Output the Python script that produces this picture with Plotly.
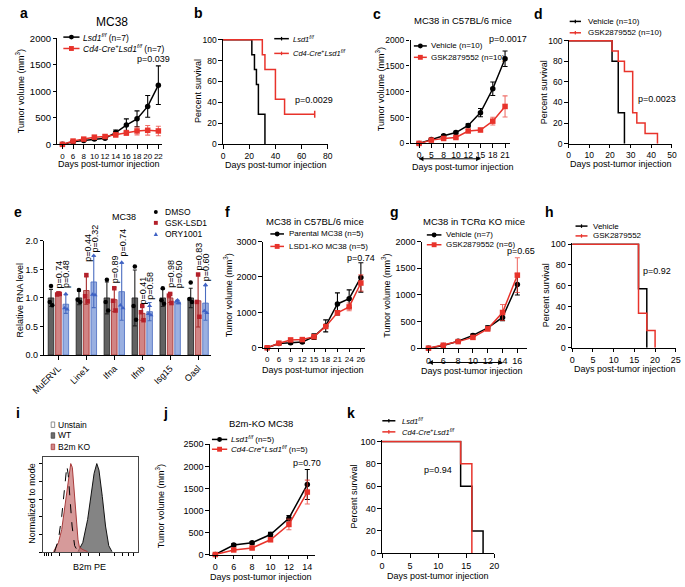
import plotly.graph_objects as go

# ---------------- data ----------------
# a: tumour growth, Lsd1 f/f vs Cd4-Cre+ Lsd1 f/f
a_days = [0, 6, 8, 10, 12, 14, 16, 18, 20, 22]
a_lsd_mean = [0, 50, 74, 99, 117, 222, 364, 481, 716, 1117]
a_lsd_err = [0, 12, 15, 20, 22, 50, 117, 150, 205, 365]
a_cre_mean = [0, 62, 99, 136, 148, 179, 216, 253, 265, 253]
a_cre_err = [0, 15, 20, 25, 30, 40, 50, 75, 90, 90]

# b: survival
b_lsd_t = [0, 22, 24, 25.5, 27, 32]
b_lsd_s = [100, 85.7, 71.4, 57.1, 28.6, 0]
b_cre_t = [0, 30, 32, 40, 47, 70]
b_cre_s = [100, 85.7, 71.4, 42.9, 28.6, 28.6]

# c: MC38 in C57BL/6, vehicle vs GSK2879552
c_days = [0, 5, 8, 10, 12, 15, 18, 21]
c_veh_mean = [0, 76, 146, 209, 348, 595, 1057, 1639]
c_veh_err = [0, 15, 20, 25, 30, 80, 130, 150]
c_gsk_mean = [0, 63, 95, 114, 240, 259, 430, 715]
c_gsk_err = [0, 15, 20, 20, 30, 35, 75, 205]
c_treat = [0, 5]          # index range of the treatment window (day 0 - day 15)

# d: survival
d_veh_t = [0, 21, 24, 27]
d_veh_s = [100, 80, 30, 0]
d_gsk_t = [0, 21, 24, 27, 31, 33, 37, 43]
d_gsk_s = [100, 90, 80, 70, 30, 20, 10, 0]

# e: relative RNA level
e_genes = ["MuERVL", "Line1", "Ifna", "Ifnb", "Isg15", "Oasl"]
e_dmso_mean = [1.0, 1.0, 1.0, 1.0, 1.0, 1.0]
e_dmso_err = [0.15, 0.12, 0.28, 0.49, 0.15, 0.17]
e_dmso_pts = [[1.21, 0.93, 0.87], [1.14, 0.97, 0.93], [1.32, 0.93, 0.78],
              [1.55, 0.86, 0.62], [1.17, 0.96, 0.90], [1.27, 0.98, 0.93]]
e_gsk_mean = [1.07, 1.13, 0.97, 0.73, 1.0, 0.95]
e_gsk_err = [0.02, 0.24, 0.21, 0.12, 0.08, 0.46]
e_gsk_pts = [[1.08, 1.06, 1.07], [1.40, 1.03, 0.94], [1.17, 0.95, 0.78],
             [0.86, 0.75, 0.61], [1.07, 1.04, 0.91], [1.41, 0.93, 0.67]]
e_ory_mean = [0.89, 1.28, 1.11, 0.76, 0.93, 0.91]
e_ory_err = [0.16, 0.45, 0.50, 0.16, 0.03, 0.30]
e_ory_pts = [[1.07, 0.82, 0.80], [1.74, 1.06, 1.05], [1.62, 0.87, 0.82],
             [0.86, 0.72, 0.70], [0.96, 0.94, 0.91], [1.23, 0.77, 0.74]]
e_p_gsk = ["p=0.74", "p=0.44", "p=0.89", "p=0.41", "p=0.98", "p=0.83"]
e_p_ory = ["p=0.48", "p=0.32", "p=0.74", "p=0.58", "p=0.50", "p=0.60"]
e_p_gsk_y = [1.15, 1.62, 1.24, 0.87, 1.16, 1.46]
e_p_ory_y = [1.15, 1.77, 1.70, 0.96, 1.16, 1.28]

# f: parental vs LSD1-KO MC38
f_days = [0, 6, 9, 12, 15, 18, 21, 24, 26]
f_par_mean = [0, 120, 139, 166, 314, 618, 1237, 1385, 1985]
f_par_err = [0, 20, 30, 40, 80, 170, 314, 250, 415]
f_ko_mean = [0, 129, 222, 231, 314, 600, 988, 1154, 1828]
f_ko_err = [0, 20, 30, 30, 60, 50, 60, 110, 230]

# g: MC38 in TCRa KO mice
g_days = [0, 6, 8, 10, 12, 14, 16]
g_veh_mean = [0, 49, 129, 239, 380, 577, 1196]
g_veh_err = [0, 10, 15, 25, 40, 60, 200]
g_gsk_mean = [0, 55, 123, 202, 362, 669, 1369]
g_gsk_err = [0, 10, 15, 30, 40, 150, 325]
g_treat = [0, 5]          # index range of the treatment window (day 0 - day 14)

# h: survival
h_veh_t = [0, 16, 18]
h_veh_s = [100, 57.1, 0]
h_gsk_t = [0, 16, 18, 20]
h_gsk_s = [100, 33.3, 16.7, 0]

# i: flow histograms (B2m PE, % of mode)
i_un_x = [12.2, 16.4, 19.8, 22.5, 24.2, 25.2, 26.6, 28.3, 30.7, 33.4, 36.9]
i_un_y = [0, 14.7, 40.4, 70, 94, 97.4, 88, 62.5, 29.6, 7.4, 0.7]
i_ko_x = [11.2, 16.4, 19.8, 23.2, 25.9, 28.3, 29.3, 31.0, 33.4, 35.1, 36.9, 38.5, 42.0, 47.1]
i_ko_y = [0.7, 11, 25.7, 51.5, 77, 95.6, 100, 95.6, 62.5, 33, 14.7, 5.5, 3, 0.7]
i_wt_x = [36.9, 42.0, 47.1, 50.5, 53.9, 56.7, 59.0, 62.5, 65.9, 69.3, 72.7]
i_wt_y = [0.7, 11, 37, 63, 89, 100, 92.6, 63, 29.6, 7.4, 0.7]

# j: B2m-KO MC38
j_days = [0, 6, 8, 10, 12, 14]
j_lsd_mean = [0, 215, 267, 453, 824, 1588]
j_lsd_err = [0, 30, 30, 50, 60, 340]
j_cre_mean = [0, 104, 148, 334, 682, 1417]
j_cre_err = [0, 20, 30, 40, 120, 270]

# k: survival
k_lsd_t = [0, 14, 16, 18]
k_lsd_s = [100, 60, 20, 0]
k_cre_t = [0, 14, 16]
k_cre_s = [100, 80, 0]

# ---------------- styling helpers ----------------
W, H = 685, 587
FONT = "Liberation Sans, Arial, sans-serif"
RED = "#e8332b"
RED_ERR = "rgba(232,51,43,0.7)"
BLACK = "#000000"


def X(px):
    return px / W


def Y(py):
    return 1 - py / H


def tf(size):
    return dict(family=FONT, size=size, color="black")


fig = go.Figure()
layout_axes = {}
annotations = []
shapes = []


def axis_common():
    return dict(showline=True, linecolor="black", linewidth=1.2, ticks="outside",
                ticklen=3.5, tickwidth=1.2, tickcolor="black", showgrid=False,
                zeroline=False, fixedrange=True, tickangle=0, tickfont=tf(9))


def make_axes(n, box, xr, yr, xkw=None, ykw=None):
    x0, x1, yt, yb = box
    xn = "x" if n == 1 else f"x{n}"
    yn = "y" if n == 1 else f"y{n}"
    xa = axis_common()
    xa.update(domain=[X(x0), X(x1)], range=xr, anchor=yn)
    ya = axis_common()
    ya.update(domain=[Y(yb), Y(yt)], range=yr, anchor=xn)
    if xkw:
        xa.update(xkw)
    if ykw:
        ya.update(ykw)
    layout_axes["xaxis" if n == 1 else f"xaxis{n}"] = xa
    layout_axes["yaxis" if n == 1 else f"yaxis{n}"] = ya
    return xn, yn


def ann(text, px, py, size=9, xanchor="center", yanchor="middle", angle=0, color="black"):
    annotations.append(dict(text=text, x=X(px), y=Y(py), xref="paper", yref="paper",
                            xanchor=xanchor, yanchor=yanchor, showarrow=False,
                            textangle=angle, borderpad=0,
                            font=dict(family=FONT, size=size, color=color)))


def legend_entry(xl0, xl1, py, color, marker, text, tx, size=8, msize=5):
    shapes.append(dict(type="line", xref="paper", yref="paper", x0=X(xl0), x1=X(xl1),
                       y0=Y(py), y1=Y(py), line=dict(color=color, width=1.5)))
    xm = (xl0 + xl1) / 2
    r = msize / 2
    if marker == "circle":
        shapes.append(dict(type="circle", xref="paper", yref="paper", x0=X(xm - r), x1=X(xm + r),
                           y0=Y(py + r), y1=Y(py - r), fillcolor=color, line=dict(width=0)))
    elif marker == "square":
        shapes.append(dict(type="rect", xref="paper", yref="paper", x0=X(xm - r), x1=X(xm + r),
                           y0=Y(py + r), y1=Y(py - r), fillcolor=color, line=dict(width=0)))
    elif marker == "tick":
        shapes.append(dict(type="line", xref="paper", yref="paper", x0=X(xm), x1=X(xm),
                           y0=Y(py + 1.8), y1=Y(py - 1.8), line=dict(color=color, width=1.2)))
    ann(text, tx, py, size=size, xanchor="left")


def tumor_panel(n, box, days, series, yr, ydtick, xpad, xfs=9, yfs=9):
    idx = list(range(len(days)))
    xr = [-xpad[0], len(days) - 1 + xpad[1]]
    xn, yn = make_axes(n, box, xr, yr,
                       xkw=dict(tickmode="array", tickvals=idx, ticktext=[str(d) for d in days],
                                tickfont=tf(xfs)),
                       ykw=dict(tickmode="linear", tick0=0, dtick=ydtick, tickfont=tf(yfs)))
    for mean, err, color, errcolor, symbol in series:
        fig.add_trace(go.Scatter(x=idx, y=mean, xaxis=xn, yaxis=yn, mode="lines+markers",
                                 line=dict(color=color, width=1.5),
                                 marker=dict(symbol=symbol, size=5.5, color=color),
                                 error_y=dict(type="data", array=err, color=errcolor,
                                              thickness=1.1, width=2.5),
                                 cliponaxis=False, showlegend=False, hoverinfo="skip"))
    return xr, box


def surv_panel(n, box, xr, xdtick, curves, fs=9):
    xn, yn = make_axes(n, box, xr, [0, 101],
                       xkw=dict(tickmode="linear", tick0=0, dtick=xdtick, tickfont=tf(fs)),
                       ykw=dict(tickmode="linear", tick0=0, dtick=20, tickfont=tf(fs)))
    for t, s, color in curves:
        fig.add_trace(go.Scatter(x=t, y=s, xaxis=xn, yaxis=yn, mode="lines",
                                 line=dict(color=color, width=1.5, shape="hv"),
                                 cliponaxis=False, showlegend=False, hoverinfo="skip"))
    return xn, yn


def range_arrow(panel, window, py, head_px=4.5):
    # double-headed arrow under the x axis spanning the treatment window,
    # positioned with the same linear mapping the panel's x axis uses
    xr, box = panel

    def to_px(v):
        return box[0] + (v - xr[0]) / (xr[1] - xr[0]) * (box[1] - box[0])

    p0, p1 = to_px(window[0]), to_px(window[1])
    shapes.append(dict(type="line", xref="paper", yref="paper", x0=X(p0), x1=X(p1),
                       y0=Y(py), y1=Y(py), line=dict(color="black", width=1)))
    for tip, base in ((p0, p0 + head_px), (p1, p1 - head_px)):
        shapes.append(dict(type="path", xref="paper", yref="paper",
                           path=f"M {X(tip)} {Y(py)} L {X(base)} {Y(py - 2.6)} L {X(base)} {Y(py + 2.6)} Z",
                           fillcolor="black", line=dict(width=0)))


DAYS = "Days post-tumor injection"
TV = "Tumor volume (mm<sup>3</sup>)"
PS = "Percent survival"
LSD = "<i>Lsd1</i><sup><i>f/f</i></sup>"
CRE = "<i>Cd4-Cre</i><sup>+</sup><i>Lsd1</i><sup><i>f/f</i></sup>"

# ---------------- panel a ----------------
tumor_panel(1, (45.7, 153, 33, 141), a_days,
            [(a_lsd_mean, a_lsd_err, BLACK, BLACK, "circle"),
             (a_cre_mean, a_cre_err, RED, RED_ERR, "square")],
            [0, 2000], 500, (0.46, 0.34), xfs=8, yfs=9.5)
ann("a", 11.7, 7, size=14, angle=0)
ann("MC38", 102, 16, size=12)
legend_entry(51.7, 68.3, 31.7, BLACK, "circle", LSD + " (n=7)", 70.7, size=8.5)
legend_entry(51.7, 68.3, 43.3, RED, "square", CRE + " (n=7)", 70.7, size=8.5)
ann("p=0.039", 144.5, 54.3, size=9)
ann(TV, 8, 87, size=9, angle=-90)
ann(DAYS, 99, 161.5, size=9)

# ---------------- panel b ----------------
xb, yb = surv_panel(2, (215.7, 323.3, 33.3, 140.7), [0, 80], 20,
                    [(b_lsd_t, b_lsd_s, BLACK), (b_cre_t, b_cre_s, RED)], fs=8.5)
fig.add_trace(go.Scatter(x=b_cre_t[-1:], y=b_cre_s[-1:], xaxis=xb, yaxis=yb, mode="markers",
                         marker=dict(symbol="line-ns", size=5, line=dict(color=RED, width=1.5)),
                         cliponaxis=False, showlegend=False, hoverinfo="skip"))
ann("b", 190.7, 7.3, size=14)
legend_entry(268.3, 283.3, 33.3, BLACK, "tick", LSD, 286.7, size=7.5)
legend_entry(268.3, 283.3, 48.3, RED, "tick", CRE, 286.7, size=7.5)
ann("p=0.0029", 308.7, 96, size=9)
ann(PS, 190, 86.7, size=9, angle=-90)
ann(DAYS, 270, 162, size=9)

# ---------------- panel c ----------------
pc = tumor_panel(3, (408.3, 510, 34.7, 140), c_days,
                 [(c_veh_mean, c_veh_err, BLACK, BLACK, "circle"),
                  (c_gsk_mean, c_gsk_err, RED, RED_ERR, "square")],
                 [0, 2000], 500, (0.69, 0.37), xfs=8.5, yfs=8.5)
ann("c", 374.3, 8.3, size=14)
ann("MC38 in C57BL/6 mice", 461.7, 15, size=9.5)
legend_entry(411.7, 425, 40.7, BLACK, "circle", "Vehicle (n=10)", 428.3, size=8)
legend_entry(411.7, 425, 52.3, RED, "square", "GSK2879552 (n=10)", 428.3, size=8)
ann("p=0.0017", 488.3, 33.3, size=9, xanchor="left")
ann(TV, 377.7, 85, size=9, angle=-90)
ann(DAYS, 462.3, 164.5, size=9)
range_arrow(pc, c_treat, 155.7)

# ---------------- panel d ----------------
surv_panel(4, (570.7, 676.7, 34.3, 140.3), [0, 50], 10,
           [(d_veh_t, d_veh_s, BLACK), (d_gsk_t, d_gsk_s, RED)], fs=8.5)
ann("d", 540, 8.3, size=14)
legend_entry(571.7, 583.3, 15.7, BLACK, "tick", "Vehicle (n=10)", 589, size=8)
legend_entry(571.7, 583.3, 27.3, RED, "tick", "GSK2879552 (n=10)", 589, size=8)
ann("p=0.0023", 661, 95, size=9)
ann(PS, 545, 88.3, size=9, angle=-90)
ann(DAYS, 624, 161, size=9)

# ---------------- panel e ----------------
xe, ye = make_axes(5, (32.3, 203.3, 239.3, 355.7), [-0.5, 5.46], [0, 2],
                   xkw=dict(tickmode="array", tickvals=list(range(len(e_genes))),
                            ticktext=e_genes, tickangle=-45),
                   ykw=dict(tickmode="linear", tick0=0, dtick=0.5, tickformat=".1f"))
e_groups = [
    (e_dmso_mean, e_dmso_err, e_dmso_pts, -0.265, "rgba(70,70,70,0.85)", "#222222", "#000000", "circle"),
    (e_gsk_mean, e_gsk_err, e_gsk_pts, 0.0, "rgba(190,80,80,0.7)", "#a52a2a", "#b3202a", "square"),
    (e_ory_mean, e_ory_err, e_ory_pts, 0.265, "rgba(120,150,215,0.75)", "#4a6cc0", "#3f62c4", "triangle-up"),
]
e_jitter = [0.0, -0.045, 0.045]
for mean, err, pts, off, fill, edge, ptc, sym in e_groups:
    xs = [i + off for i in range(len(e_genes))]
    fig.add_trace(go.Bar(x=xs, y=mean, width=0.2, xaxis=xe, yaxis=ye,
                         marker=dict(color=fill, line=dict(color=edge, width=0.8)),
                         error_y=dict(type="data", array=err, color=edge, thickness=1.1, width=2),
                         showlegend=False, hoverinfo="skip"))
    px_, py_ = [], []
    for i, p in enumerate(pts):
        for j, v in enumerate(p):
            px_.append(i + off + e_jitter[j])
            py_.append(v)
    fig.add_trace(go.Scatter(x=px_, y=py_, xaxis=xe, yaxis=ye, mode="markers",
                             marker=dict(symbol=sym, size=4.5, color=ptc),
                             cliponaxis=False, showlegend=False, hoverinfo="skip"))
for i in range(len(e_genes)):
    for lab, yv, off in ((e_p_gsk[i], e_p_gsk_y[i], 0.0), (e_p_ory[i], e_p_ory_y[i], 0.265)):
        annotations.append(dict(text=lab, x=i + off + 0.03, y=yv, xref=xe, yref=ye,
                                xanchor="center", yanchor="bottom", textangle=-90,
                                showarrow=False, borderpad=0,
                                font=dict(family=FONT, size=9, color="black")))
ann("e", 5, 210, size=14)
ann("MC38", 113.7, 215, size=9)
shapes.append(dict(type="circle", xref="paper", yref="paper", x0=X(144.7), x1=X(148.7),
                   y0=Y(212), y1=Y(208), fillcolor="#000000", line=dict(width=0)))
ann("DMSO", 155, 210, size=8.5, xanchor="left")
shapes.append(dict(type="rect", xref="paper", yref="paper", x0=X(144.7), x1=X(148.7),
                   y0=Y(223), y1=Y(219), fillcolor="#b3202a", line=dict(width=0)))
ann("GSK-LSD1", 155, 221, size=8.5, xanchor="left")
shapes.append(dict(type="path", xref="paper", yref="paper",
                   path=f"M {X(144.5)} {Y(234.3)} L {X(148.9)} {Y(234.3)} L {X(146.7)} {Y(230.3)} Z",
                   fillcolor="#3f62c4", line=dict(width=0)))
ann("ORY1001", 155, 232.3, size=8.5, xanchor="left")
ann("Relative RNA level", 7.3, 300, size=9, angle=-90)

# ---------------- panel f ----------------
tumor_panel(6, (256.7, 361.7, 240, 348.3), f_days,
            [(f_par_mean, f_par_err, BLACK, BLACK, "circle"),
             (f_ko_mean, f_ko_err, RED, RED_ERR, "square")],
            [0, 3000], 1000, (0.36, 0.37), xfs=8, yfs=9)
ann("f", 220.7, 210, size=14)
ann("MC38 in C57BL/6 mice", 310, 220, size=9.5)
legend_entry(264.3, 278.3, 232.3, BLACK, "circle", "Parental MC38 (n=5)", 282.3, size=8)
legend_entry(264.3, 278.3, 245, RED, "square", "LSD1-KO MC38 (n=5)", 282.3, size=8)
ann("p=0.74", 341.7, 256.7, size=9, xanchor="left")
ann(TV, 221.7, 295, size=9, angle=-90)
ann(DAYS, 308.3, 370.7, size=9)

# ---------------- panel g ----------------
pg = tumor_panel(7, (420, 527.7, 240, 348.7), g_days,
                 [(g_veh_mean, g_veh_err, BLACK, BLACK, "circle"),
                  (g_gsk_mean, g_gsk_err, RED, RED_ERR, "square")],
                 [0, 2000], 500, (0.44, 0.64), xfs=9, yfs=9)
ann("g", 391.7, 210, size=14)
ann("MC38 in TCRα KO mice", 473, 220, size=9.5)
legend_entry(425, 440, 233.3, BLACK, "circle", "Vehicle (n=7)", 444, size=8)
legend_entry(425, 440, 243.3, RED, "square", "GSK2879552 (n=6)", 444, size=8)
ann("p=0.65", 506.7, 250, size=9, xanchor="left")
ann(TV, 383.3, 295, size=9, angle=-90)
ann(DAYS, 471.7, 372, size=9)
range_arrow(pg, g_treat, 363.3)

# ---------------- panel h ----------------
surv_panel(8, (574.3, 680.7, 241.7, 348.3), [0, 25], 5,
           [(h_veh_t, h_veh_s, BLACK), (h_gsk_t, h_gsk_s, RED)])
ann("h", 550.7, 210, size=14)
legend_entry(577.7, 590, 224.3, BLACK, "tick", "Vehicle", 595, size=8)
legend_entry(577.7, 590, 234.3, RED, "tick", "GSK2879552", 595, size=8)
ann("p=0.92", 661.7, 270, size=9)
ann(PS, 548.3, 295, size=9, angle=-90)
ann(DAYS, 628.3, 369.5, size=9)

# ---------------- panel i ----------------
xi, yi = make_axes(9, (30.7, 128.3, 460, 556.7), [0, 100], [0, 107],
                   xkw=dict(mirror=True, tickmode="array",
                            tickvals=[2, 4, 6, 9, 17, 30, 40, 48, 60, 75, 84, 90, 95],
                            showticklabels=False, ticklen=2.5, linecolor="#444444", linewidth=1),
                   ykw=dict(mirror=True, tickmode="array", tickvals=[0, 20, 40, 60, 80, 100],
                            showticklabels=False, ticklen=3, linecolor="#444444", linewidth=1))
fig.add_trace(go.Scatter(x=i_wt_x, y=i_wt_y, xaxis=xi, yaxis=yi, mode="lines", fill="tozeroy",
                         fillcolor="rgba(110,110,110,0.85)", line=dict(color="#111111", width=1),
                         showlegend=False, hoverinfo="skip"))
fig.add_trace(go.Scatter(x=i_ko_x, y=i_ko_y, xaxis=xi, yaxis=yi, mode="lines", fill="tozeroy",
                         fillcolor="rgba(200,120,120,0.75)", line=dict(color="#a83a3a", width=1),
                         showlegend=False, hoverinfo="skip"))
fig.add_trace(go.Scatter(x=i_un_x, y=i_un_y, xaxis=xi, yaxis=yi, mode="lines",
                         line=dict(color="#000000", width=1, dash="dash"),
                         showlegend=False, hoverinfo="skip"))
ann("i", 5, 415, size=14)
for (py, fc, lc, lab) in ((426.7, "white", "#777777", "Unstain"),
                          (437.7, "#6e6e6e", "#444444", "WT"),
                          (449.3, "#d08888", "#a83a3a", "B2m KO")):
    shapes.append(dict(type="rect", xref="paper", yref="paper", x0=X(39.2), x1=X(42.8),
                       y0=Y(py + 2.8), y1=Y(py - 2.8), fillcolor=fc, line=dict(color=lc, width=0.8)))
    ann(lab, 45.7, py, size=8.5, xanchor="left")
ann("Normalized to mode", 20, 506.7, size=9, angle=-90)
ann("B2m PE", 78.3, 571.7, size=9)

# ---------------- panel j ----------------
tumor_panel(10, (202.3, 310, 446.7, 559), j_days,
            [(j_lsd_mean, j_lsd_err, BLACK, BLACK, "circle"),
             (j_cre_mean, j_cre_err, RED, RED_ERR, "square")],
            [0, 2500], 500, (0.29, 0.41), xfs=9, yfs=9)
ann("j", 156.7, 415, size=14)
ann("B2m-KO MC38", 254.3, 425, size=9.5)
legend_entry(204.3, 220, 441.7, BLACK, "circle", LSD + " (n=5)", 223.3, size=8)
legend_entry(204.3, 220, 451.7, RED, "square", CRE + " (n=5)", 223.3, size=8)
ann("p=0.70", 302, 465.7, size=9)
ann(TV, 151.7, 510, size=9, angle=-90)
ann(DAYS, 255, 581.5, size=9)

# ---------------- panel k ----------------
surv_panel(11, (379, 494.3, 442.7, 557.7), [0, 20], 5,
           [(k_lsd_t, k_lsd_s, BLACK), (k_cre_t, k_cre_s, RED)])
ann("k", 346.7, 415, size=14)
legend_entry(379.3, 392.7, 422.7, BLACK, "tick", LSD, 398.3, size=7.5)
legend_entry(379.3, 392.7, 434, RED, "tick", CRE, 398.3, size=7.5)
ann("p=0.94", 436.7, 473.3, size=9)
ann(PS, 350, 500, size=9, angle=-90)
ann(DAYS, 436.7, 580.5, size=9)

# bold panel letters
for a_ in annotations:
    t = a_.get("text", "")
    if len(t) == 1 and t.isalpha():
        a_["text"] = f"<b>{t}</b>"

fig.update_layout(width=W, height=H, margin=dict(l=0, r=0, t=0, b=0),
                  paper_bgcolor="white", plot_bgcolor="white", barmode="overlay",
                  showlegend=False, annotations=annotations, shapes=shapes,
                  font=dict(family=FONT, size=9, color="black"), **layout_axes)

fig.write_html("out.html", config={"displayModeBar": False},
               post_script="document.body.style.margin='0px';document.body.style.padding='0px';")
